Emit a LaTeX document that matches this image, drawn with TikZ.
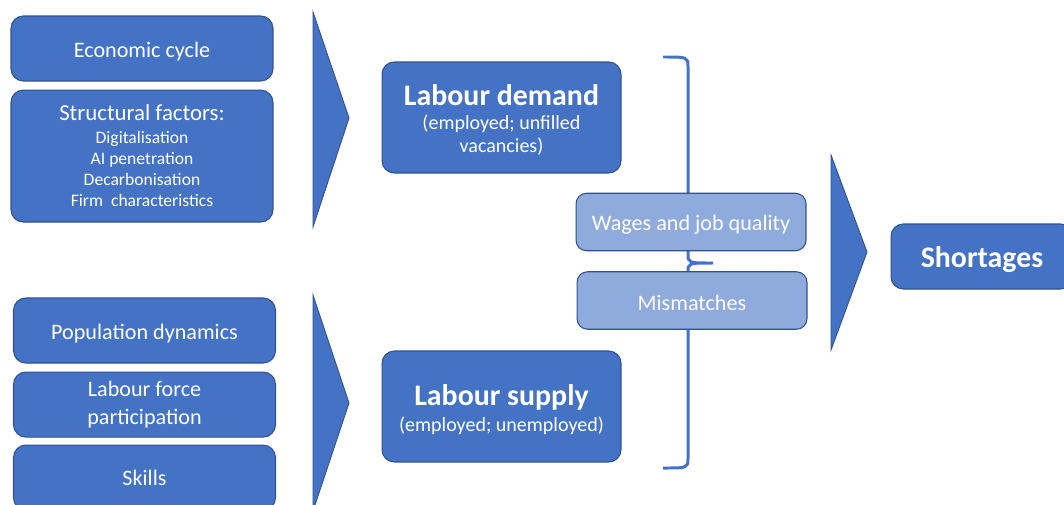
\documentclass[tikz,border=0pt]{standalone}
\usepackage{fontspec}
\setmainfont{Carlito}
\usepackage{xcolor}
\usetikzlibrary{positioning}
\definecolor{boxblue}{HTML}{4472C4}
\definecolor{edgeblue}{HTML}{2F528F}
\definecolor{paleblue}{HTML}{8FAADC}

\begin{document}
\begin{tikzpicture}[x=0.02cm, y=-0.02cm,
  factor/.style={draw=edgeblue, fill=boxblue, line width=0.6pt, rounded corners=7pt,
    text=white, align=center, inner sep=0pt, minimum width=5.24cm, minimum height=1.3cm,
    font=\fontsize{12.6}{15.5}\selectfont},
  market/.style={factor, minimum width=4.78cm, minimum height=2.22cm,
    font=\fontsize{11.4}{13}\selectfont},
  channel/.style={factor, fill=paleblue, minimum width=4.6cm, minimum height=1.15cm, rounded corners=6pt},
  chevron/.style={fill=boxblue, draw=edgeblue, line width=0.5pt}]
  % Page frame
  \clip (0,0) rectangle (1064,504);
  \fill[white] (0,0) rectangle (1064,504);

  % Chevron corners
  \coordinate (A1) at (313,12);  \coordinate (A2) at (349,118); \coordinate (A3) at (313,227);
  \coordinate (B1) at (313,295); \coordinate (B2) at (349,403); \coordinate (B3) at (313,511);
  \coordinate (C1) at (831,155); \coordinate (C2) at (867,252); \coordinate (C3) at (831,350);

  % Demand side factors
  \node[factor, text height=12pt] (econ) at (142,48.5) {Economic cycle};
  \node[factor, minimum height=2.64cm, below=0.16cm of econ, font=\fontsize{10}{12}\selectfont] (struct)
    {\fontsize{13}{14}\selectfont Structural factors:\\[1pt]
     Digitalisation\\AI penetration\\Decarbonisation\\Firm\ \ characteristics};

  % Supply side factors
  \node[factor, text height=12pt] (popdyn) at (144.5,330.5) {Population dynamics};
  \node[factor, below=0.16cm of popdyn] (lfp) {Labour force\\participation};
  \node[factor, below=0.14cm of lfp] (skills) {Skills};

  % Chevrons
  \draw[chevron] (A1) -- (A2) -- (A3) -- cycle;
  \draw[chevron] (B1) -- (B2) -- (B3) -- cycle;
  \draw[chevron] (C1) -- (C2) -- (C3) -- cycle;

  % Demand and supply
  \node[market] (demand) at (501.5,117.5)
    {\fontsize{17}{20}\bfseries\rule{0pt}{14.5pt}Labour demand\\[1pt]
     (employed; unfilled\\vacancies)};
  \node[market] (supply) at (501.5,406.5)
    {\fontsize{17}{20}\bfseries\rule{0pt}{15.5pt}Labour supply\\[2pt]
     (employed; unemployed)};

  % Brace
  \draw[boxblue, line width=1.7pt]
    (663,57) .. controls (688,57) .. (688,67) -- (688,254)
    .. controls (688,263) .. (713,263)
    .. controls (688,263) .. (688,272) -- (688,458)
    .. controls (688,468) .. (663,468);

  % Adjustment channels
  \node[channel, text height=12.2pt] (wages) at (691,222) {Wages and job quality};
  \node[channel, text height=11pt] (mismatch) at (692,300.5) {Mismatches};

  % Outcome
  \node[factor, minimum width=3.64cm, text height=15pt, font=\fontsize{17}{20}\bfseries] (shortage)
    at (982,256.5) {Shortages};
\end{tikzpicture}
\end{document}
